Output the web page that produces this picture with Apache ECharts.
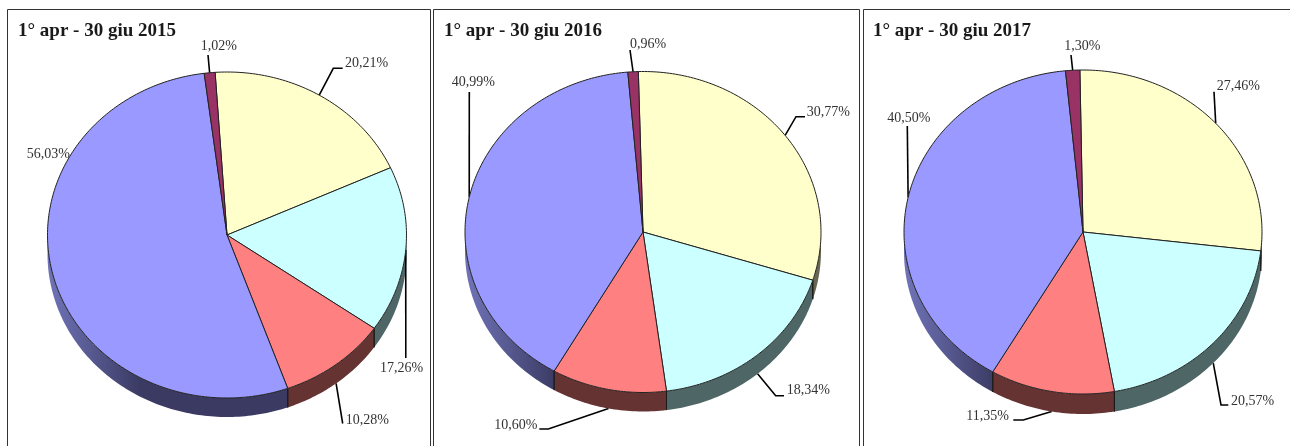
<!DOCTYPE html>
<html>
<head>
<meta charset="utf-8">
<title>1° apr - 30 giu</title>
<script src="https://cdn.jsdelivr.net/npm/echarts@6/dist/echarts.min.js"></script>
<style>
  html, body { margin: 0; padding: 0; background: #fff; }
  #main { width: 1290px; height: 446px; }
</style>
</head>
<body>
<div id="main"></div>
<script>
// valori letti dalle etichette (non sommano a 100, il grafico li normalizza)
const titles = ['1° apr - 30 giu 2015', '1° apr - 30 giu 2016', '1° apr - 30 giu 2017'];
const values2015 = [20.21, 17.26, 10.28, 56.03, 1.02];
const values2016 = [30.77, 18.34, 10.60, 40.99, 0.96];
const values2017 = [27.46, 20.57, 11.35, 40.50, 1.30];
const labels2015 = ['20,21%', '17,26%', '10,28%', '56,03%', '1,02%'];
const labels2016 = ['30,77%', '18,34%', '10,60%', '40,99%', '0,96%'];
const labels2017 = ['27,46%', '20,57%', '11,35%', '40,50%', '1,30%'];

const topColors = ['#ffffcc', '#ccffff', '#ff8080', '#9999ff', '#993366'];
const wallColors = ['#666652', '#4f6666', '#663333', '#3a3a62', '#3d1429'];

// geometria delle torte: start = angolo iniziale in gradi da ore 12
const pies = [
  { cx: 227, cy: 235, rx: 179.5, ry: 163, depth: 19, start: -3.8, titleX: 13,
    values: values2015, labels: labels2015,
    // per fetta: punti del filo dopo l'ancora, posizione etichetta [x, y, allineamento]
    leaders: [
      [[333.3, 68.3], [342.7, 68.3]],
      [[405.8, 358]],
      [[342.7, 423.5]],
      null,
      [[208, 55]]
    ],
    labelPos: [[345, 63.5, 'left'], [380, 368, 'left'], [345.7, 420.5, 'left'], [26.7, 154, 'left'], [200.7, 46, 'left']] },
  { cx: 643, cy: 232, rx: 178, ry: 160.5, depth: 19, start: -1.5, titleX: 439,
    values: values2016, labels: labels2016,
    leaders: [
      [[796, 116.7], [805, 116.7]],
      [[775.7, 395.7], [784, 395.7]],
      [[548.3, 429], [539.3, 429]],
      [[469.3, 92]],
      [[630, 50]]
    ],
    labelPos: [[806.7, 112.3, 'left'], [786.7, 390.7, 'left'], [537.3, 425, 'right'], [451.7, 82.7, 'left'], [630, 44.7, 'left']] },
  { cx: 1083, cy: 232, rx: 179, ry: 162, depth: 20, start: -1, titleX: 868,
    values: values2017, labels: labels2017,
    leaders: [
      [[1214, 91.7]],
      [[1221, 405], [1228.3, 405]],
      [[1023.3, 420], [1013.3, 420]],
      [[907.3, 126]],
      [[1071, 55]]
    ],
    labelPos: [[1216.7, 86.7, 'left'], [1231, 401, 'left'], [1009, 416.7, 'right'], [887.3, 118.3, 'left'], [1064.3, 46.7, 'left']] }
];

const rad = Math.PI / 180;
const labelFont = '14px "Liberation Serif"';

function edge(p, deg, dy) {
  return [p.cx + p.rx * Math.sin(deg * rad), p.cy - p.ry * Math.cos(deg * rad) + (dy || 0)];
}

function arcPoints(p, a, b, dy) {
  const pts = [];
  const n = Math.max(2, Math.ceil(Math.abs(b - a)));
  for (let i = 0; i <= n; i++) {
    pts.push(edge(p, a + (b - a) * i / n, dy));
  }
  return pts;
}

function makeSeries(p) {
  const total = p.values.reduce((s, v) => s + v, 0);
  return {
    type: 'custom',
    coordinateSystem: 'none',
    silent: true,
    data: p.values,
    renderItem: function (params, api) {
      const i = params.dataIndex;
      const before = p.values.slice(0, i).reduce((s, v) => s + v, 0);
      const a = p.start + before / total * 360;
      const b = a + api.value(0) / total * 360;
      const mid = (a + b) / 2;
      const children = [];

      // fianco: solo la parte della fetta nella meta' bassa (90-270 gradi)
      const wa = Math.max(a, 90);
      const wb = Math.min(b, 270);
      if (wb > wa) {
        let fill = wallColors[i];
        if (i === 3) {
          fill = new echarts.graphic.LinearGradient(p.cx - p.rx, 0, p.cx - p.rx * 0.48, 0, [
            { offset: 0, color: '#7074b8' },
            { offset: 1, color: wallColors[i] }
          ], true);
        }
        children.push({
          type: 'polygon',
          z2: 1,
          shape: { points: arcPoints(p, wa, wb, 0).concat(arcPoints(p, wb, wa, p.depth)) },
          style: { fill: fill }
        });
        // spigolo verticale tra due fianchi
        [a, b].forEach(function (deg) {
          if (deg > 90 && deg < 270) {
            children.push({
              type: 'polyline',
              z2: 2,
              shape: { points: [edge(p, deg, 0), edge(p, deg, p.depth)] },
              style: { fill: null, stroke: '#1a1a1a', lineWidth: 1 }
            });
          }
        });
      }

      // faccia superiore
      children.push({
        type: 'polygon',
        z2: 3,
        shape: { points: [[p.cx, p.cy]].concat(arcPoints(p, a, b, 0)) },
        style: { fill: topColors[i], stroke: '#222', lineWidth: 1 }
      });

      // filo dell'etichetta: parte dal centro angolare della fetta
      const way = p.leaders[i];
      if (way) {
        const onWall = Math.cos(mid * rad) < -0.3;
        const from = edge(p, mid, onWall ? p.depth : 0);
        children.push({
          type: 'polyline',
          z2: onWall ? 0 : 2,
          shape: { points: [from].concat(way) },
          style: { fill: null, stroke: '#000', lineWidth: 1.6 }
        });
      }

      const lp = p.labelPos[i];
      children.push({
        type: 'text',
        z2: 5,
        style: {
          x: lp[0],
          y: lp[1],
          text: p.labels[i],
          font: labelFont,
          fill: '#333',
          align: lp[2],
          verticalAlign: 'middle'
        }
      });

      return { type: 'group', children: children };
    }
  };
}

// riquadri: aperti in basso come nell'originale
function frame(x1, x2) {
  return {
    type: 'polyline',
    silent: true,
    shape: { points: [[x1, 446], [x1, 9.5], [x2, 9.5], [x2, 446]] },
    style: { fill: null, stroke: '#333', lineWidth: 1 }
  };
}

const chart = echarts.init(document.getElementById('main'), null, { renderer: 'canvas' });
chart.setOption({
  animation: false,
  backgroundColor: '#fff',
  title: pies.map((p, i) => ({
    text: titles[i],
    left: p.titleX,
    top: 17,
    textStyle: { fontFamily: 'Liberation Serif', fontSize: 19, fontWeight: 'bold', color: '#1a1a1a' }
  })),
  graphic: [frame(7.5, 430.5), frame(433.5, 859.5), frame(863.5, 1296)],
  series: pies.map(makeSeries)
});
</script>
</body>
</html>
